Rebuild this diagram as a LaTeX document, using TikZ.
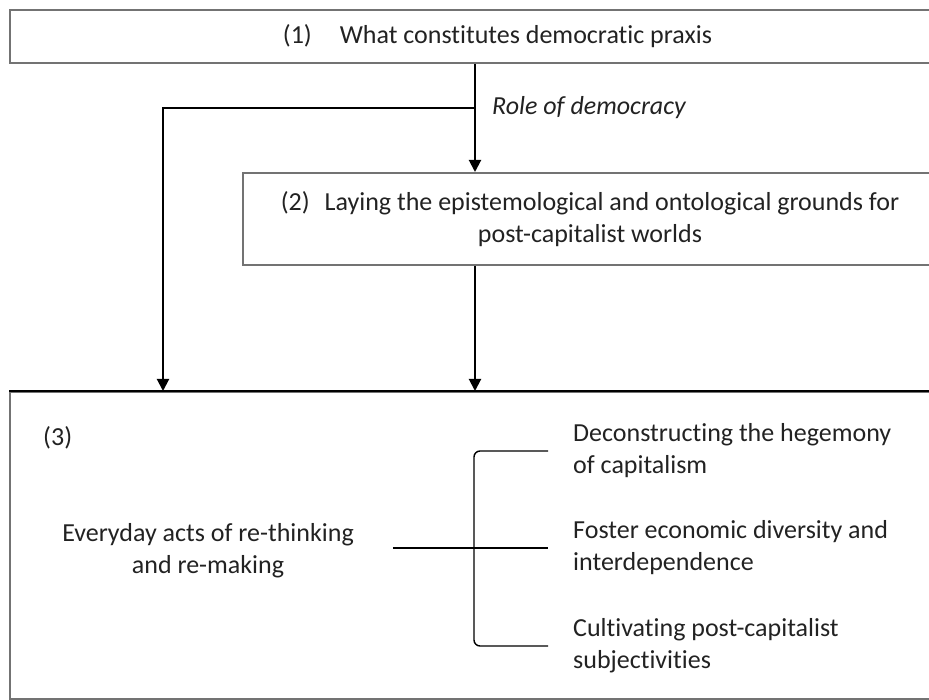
\documentclass[tikz,border=0pt]{standalone}
\usepackage{fontspec}
\setmainfont{Carlito}[Ligatures=NoCommon]
\usepackage{tikz}
\usetikzlibrary{arrows.meta,positioning}
\definecolor{frame}{HTML}{737373}
\definecolor{ink}{HTML}{222222}

\begin{document}
\begin{tikzpicture}[x=1pt,y=-1pt,
  font=\fontsize{26}{32}\selectfont, text=ink,
  b/.style={draw=frame,line width=2pt,inner sep=0pt,align=center},
  t/.style={inner sep=0pt,align=left,anchor=west},
  a/.style={-{Triangle[length=12pt,width=12pt]},line width=2pt}
]
\useasboundingbox (0,0) rectangle (929,700);
\node[b,minimum width=975pt,minimum height=53pt] (praxis) at (497.5,36.5)
  {(1)\hspace{28pt}What constitutes democratic praxis};
\node[b,minimum width=694pt,minimum height=92pt] (grounds) at (590,219)
  {(2)\hspace{15pt}Laying the epistemological and ontological grounds for\\
  post-capitalist worlds};
\node[b,minimum width=980pt,minimum height=307pt] (acts) at (500,545.5) {};
\draw[line width=2pt] (acts.north west) -- (acts.north east);

\node[t,font=\fontsize{26}{32}\selectfont\itshape] (role) at (492,108) {Role of democracy};
\node[t] (three) at (43,438) {(3)};
\node[align=center,inner sep=0pt] (everyday) at (208,551)
  {Everyday acts of re-thinking\\and re-making};
\node[t] (hegemony) at (573,451) {Deconstructing the hegemony\\of capitalism};
\node[t] (diversity) at (573,548) {Foster economic diversity and\\interdependence};
\node[t] (subject) at (573,646) {Cultivating post-capitalist\\subjectivities};

\coordinate (split) at (475,108);
\coordinate (drop) at (163,108);
\coordinate (brace) at (474,548);
\draw[line width=2pt] (praxis.south -| split) -- (split);
\draw[a] (split) -- (split |- grounds.north);
\draw[a] (split) -- (drop) -- (drop |- acts.north);
\draw[a] (grounds.south -| split) -- (split |- acts.north);

\draw[line width=1.4pt,rounded corners=6pt] ([xshift=-25pt]hegemony.west) -| (brace)
  |- ([xshift=-25pt]subject.west);
\draw[line width=1.4pt] ([xshift=39pt]everyday.east |- diversity.west)
  -- ([xshift=-25pt]diversity.west);
\end{tikzpicture}
\end{document}
